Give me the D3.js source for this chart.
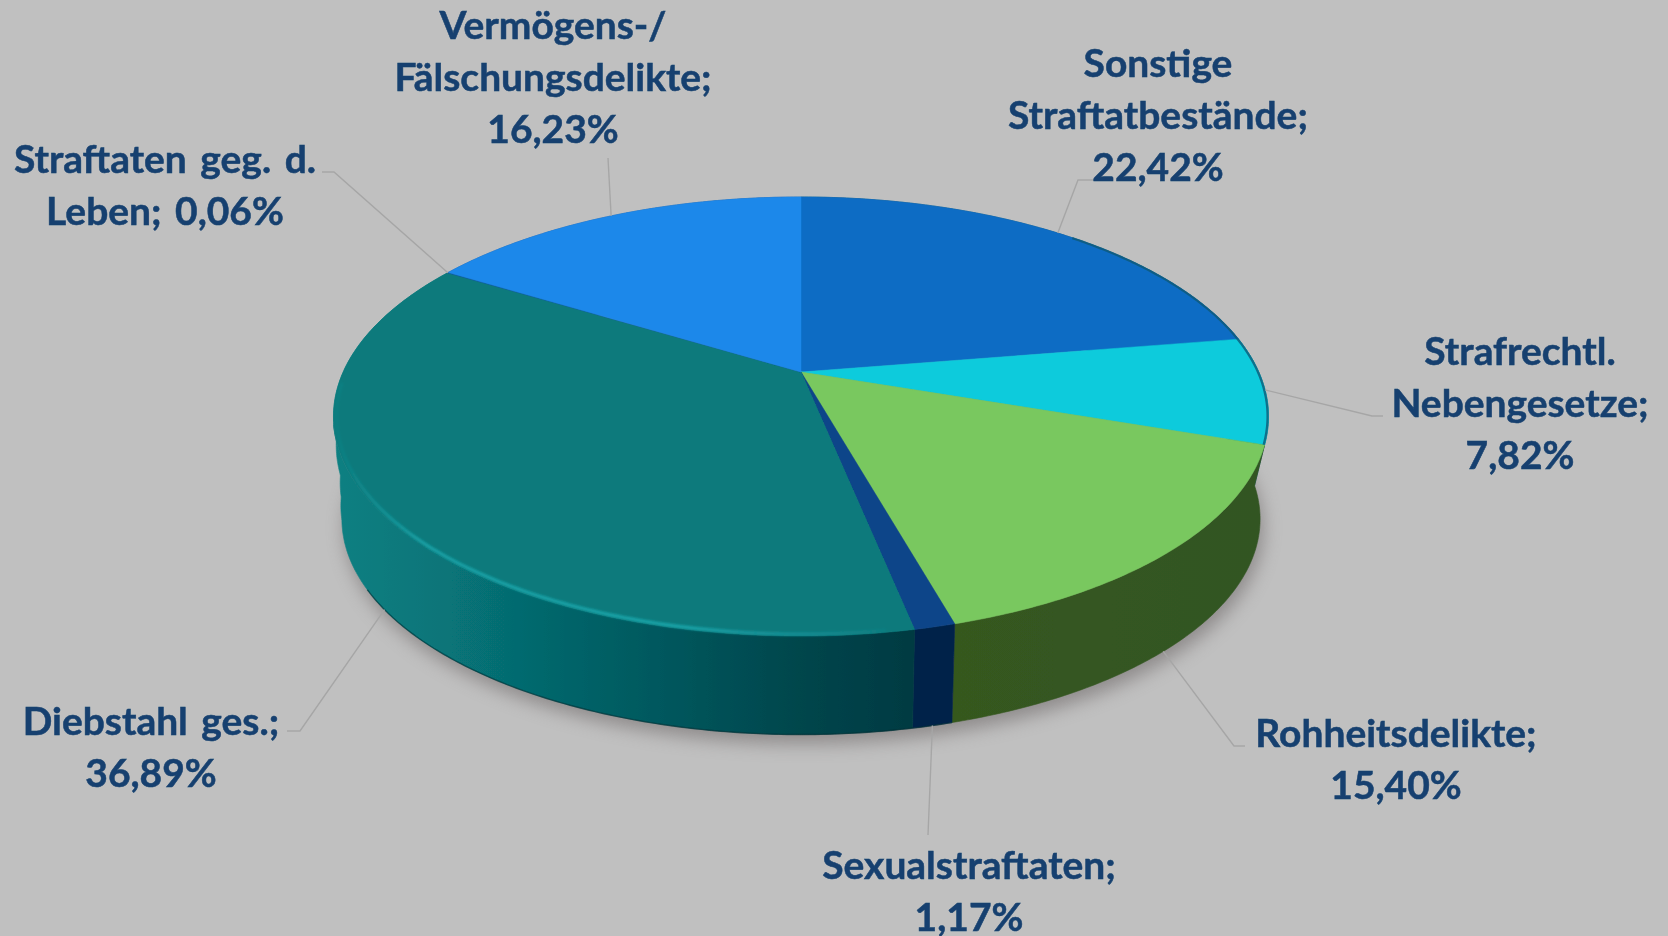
<!DOCTYPE html>
<html lang="de">
<head>
<meta charset="utf-8">
<script src="https://cdn.jsdelivr.net/npm/d3@7"></script>
<style>
html,body{margin:0;padding:0;background:#c0c0c0;overflow:hidden}
svg{display:block}
</style>
</head>
<body>
<svg id="chart" width="1668" height="936"></svg>
<script>
const categories = ["Sonstige Straftatbestände","Strafrechtl. Nebengesetze","Rohheitsdelikte","Sexualstraftaten","Diebstahl ges.","Straftaten geg. d. Leben","Vermögens-/Fälschungsdelikte"];
const shares = [22.42,7.82,15.40,1.17,36.89,0.06,16.23];
const labelLines = [
  ["Sonstige","Straftatbestände;","{v}"],
  ["Strafrechtl.","Nebengesetze;","{v}"],
  ["Rohheitsdelikte;","{v}"],
  ["Sexualstraftaten;","{v}"],
  ["Diebstahl ges.;","{v}"],
  ["Straftaten geg. d.","Leben; {v}"],
  ["Vermögens-/","Fälschungsdelikte;","{v}"]
];
const topColors  = ["#0f6cc4","#0bcbdc","#79c85e","#0a4589","#097a7c","#14609a","#1f88ea"];
const wallStops  = [
  ["#0a5a80"],
  ["#0a6a7c","#0b4a58"],
  ["#36581f","#325522"],
  ["#03234a"],
  ["#0a8082","#077478","#056469","#04555b","#02464c","#003a42"],
  ["#14507a"],
  ["#1a60a8"]
];
// label layout: text centre x, first baseline y, then leader elbow and leader end
const labelX     = [1158,1520,1396,969,151,165,553];
const labelY     = [76.6,365,747,879,735,173,38.5];
const elbowA     = [[1096,180],[1383,416],[1245,746],null,[287,731],[322,172],null];
const elbowB     = [[1078,180],[1372,416],[1234,746],[928,835],[300,731],[334,172],[608,158]];

const lineHeight = 52.2, fontSize = 38, textSquash = 1.025, wordGap = 4;
const cx = 801, cyTop = 372, R = 457.8, B = 210.5, P = 0.2027;
const cyBottom = 475.3, kBottom = 0.982;
const deg = Math.PI/180;

const svg = d3.select("#chart");
const defs = svg.append("defs");
const blur = (id,s)=>defs.append("filter").attr("id",id)
  .attr("x","-20%").attr("y","-20%").attr("width","140%").attr("height","140%")
  .append("feGaussianBlur").attr("stdDeviation",s);
blur("soft",0.7); blur("shadow",9); blur("glow",1.1); blur("text",0.35);

svg.append("rect").attr("width",1668).attr("height",936).attr("fill","#c0c0c0");

function project(a, face, k=1){
  const u = Math.sin(a)*k, v = -Math.cos(a)*k, d = 1 - P*v;
  const s = face==="bottom" ? kBottom : 1;
  const y0 = face==="bottom" ? cyBottom : cyTop;
  return [cx + s*R*u/d, y0 + s*B*v/d];
}
// the moulded left flank bulges beyond the plain lower ellipse
const flank = d3.scaleLinear()
  .domain([258,264,270,275,280,285,300].map(x=>x*deg))
  .range([0,-3,-11,-24,-37,-55,-55]).clamp(true);
const bottomEdge = a=>{const p=project(a,"bottom");return [p[0]+flank(a),p[1]];};

const arcs = d3.pie().sort(null).value(d=>d)(shares);
const sampleAngles = (a0,a1)=>{
  const n = Math.max(2, Math.ceil((a1-a0)/0.01));
  return d3.range(n+1).map(i=>a0+(a1-a0)*i/n);
};
const line = d3.line();

// shadow
const full = sampleAngles(0,2*Math.PI);
svg.append("path")
  .attr("d", line(full.map(a=>{const p=project(a,"bottom");return [p[0]+3,p[1]+9];}))+"Z")
  .attr("fill","#6f6a6a").attr("opacity",0.62).attr("filter","url(#shadow)");

const pie = svg.append("g").attr("filter","url(#soft)");

// walls
const wallShift = 0.28; // on the right the wall seam runs straight down, not along the radius
arcs.forEach((d,i)=>{
  const id = "wall"+i, stops = wallStops[i];
  const grad = defs.append("linearGradient").attr("id",id).attr("gradientUnits","userSpaceOnUse");
  const pts = sampleAngles(d.startAngle,d.endAngle);
  const xs = pts.map(a=>project(a,"top")[0]);
  grad.attr("x1",d3.min(xs)).attr("x2",d3.max(xs)).attr("y1",0).attr("y2",0);
  stops.forEach((s,j)=>grad.append("stop")
    .attr("offset",stops.length>1?j/(stops.length-1):0).attr("stop-color",s));
  const lowPts = i===2 ? sampleAngles(d.startAngle-wallShift,d.endAngle)
               : i===1 ? sampleAngles(d.startAngle,d.endAngle-wallShift) : pts;
  const ring = pts.map(a=>project(a,"top")).concat(lowPts.slice().reverse().map(bottomEdge));
  pie.append("path").attr("d",line(ring)+"Z").attr("fill","url(#"+id+")")
     .attr("stroke","url(#"+id+")").attr("stroke-width",0.6);
});

// dark lower edge of the front walls
pie.append("path")
  .attr("d",line(sampleAngles(arcs[3].startAngle,arcs[4].startAngle+1.25).map(bottomEdge)))
  .attr("fill","none").attr("stroke","#012e34").attr("stroke-width",1.4).attr("opacity",0.6);

// top faces
arcs.forEach((d,i)=>{
  const ring = [[cx,cyTop]].concat(sampleAngles(d.startAngle,d.endAngle).map(a=>project(a,"top")));
  pie.append("path").attr("d",line(ring)+"Z").attr("fill",topColors[i])
     .attr("stroke",topColors[i]).attr("stroke-width",0.5);
});

// dark bevel along the right rim of the upper slices
pie.append("path")
  .attr("d",line(sampleAngles(arcs[0].startAngle+0.75,arcs[1].endAngle).map(a=>project(a,"top",0.998))))
  .attr("fill","none").attr("stroke","#0a5a78").attr("stroke-width",2.2).attr("opacity",0.8);

// bevel highlight along the front-left rim
const hl = defs.append("linearGradient").attr("id","hl").attr("gradientUnits","userSpaceOnUse")
  .attr("x1",338).attr("x2",910).attr("y1",0).attr("y2",0);
[[0,"#17a3a8",0.1],[0.15,"#17a3a8",0.9],[0.6,"#1aa6ab",0.9],[0.85,"#1a9aa5",0.45],[1,"#1a9aa5",0]]
  .forEach(s=>hl.append("stop").attr("offset",s[0]).attr("stop-color",s[1]).attr("stop-opacity",s[2]));
const i4 = arcs[4];
svg.append("path")
  .attr("d",line(sampleAngles(i4.startAngle+0.05,i4.startAngle+1.72).map(a=>project(a,"top",0.994))))
  .attr("fill","none").attr("stroke","url(#hl)").attr("stroke-width",3.5).attr("filter","url(#glow)");

// leader lines
arcs.forEach((d,i)=>{
  const mid = (d.startAngle+d.endAngle)/2;
  const face = -Math.cos(mid) > 0.2 ? "bottom" : "top";
  const pts = [project(mid,face)];
  if(elbowB[i]) pts.push(elbowB[i]);
  if(elbowA[i]) pts.push(elbowA[i]);
  svg.append("path").attr("d",line(pts)).attr("fill","none")
     .attr("stroke","#a6a6a6").attr("stroke-width",1.4);
});

// labels
const fmt = v=>d3.format(".2f")(v).replace(".",",")+"%";
categories.forEach((c,i)=>{
  const g = svg.append("text")
    .attr("transform",`translate(${labelX[i]},${labelY[i]}) scale(${textSquash},1)`)
    .attr("text-anchor","middle")
    .attr("font-family","Lato, 'Open Sans', sans-serif")
    .attr("font-weight",700).attr("font-size",fontSize)
    .attr("word-spacing",wordGap)
    .attr("fill","#17416f").attr("stroke","#17416f").attr("stroke-width",0.5)
    .attr("filter","url(#text)");
  labelLines[i].forEach((t,j)=>g.append("tspan").attr("x",0).attr("y",j*lineHeight)
    .text(t.replace("{v}",fmt(shares[i]))));
});
</script>
</body>
</html>
